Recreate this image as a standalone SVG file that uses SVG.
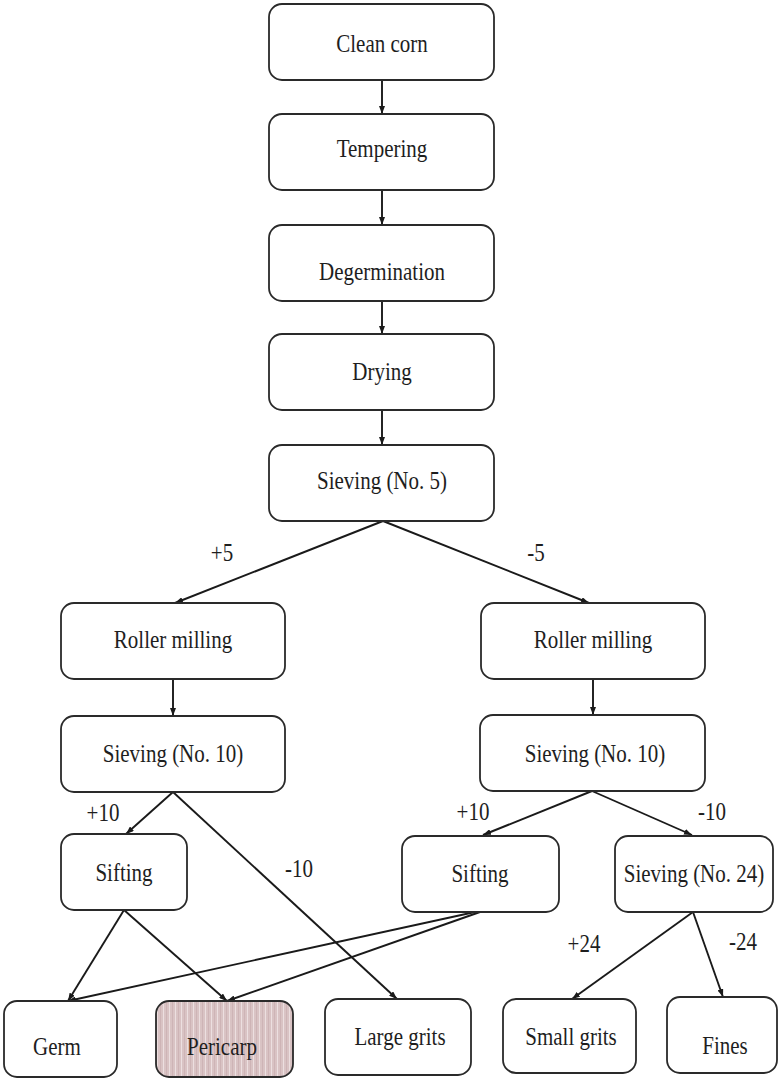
<svg xmlns="http://www.w3.org/2000/svg" width="779" height="1079" viewBox="0 0 779 1079">
<style>
.box{fill:#fff;stroke:#2a2a2a;stroke-width:1.8}
.t{font-family:"Liberation Serif","Times New Roman",serif;font-size:21px;fill:#1e1e1e;text-anchor:middle}
.e{stroke:#1a1a1a;stroke-width:1.9;fill:none;marker-end:url(#ah)}
</style>
<defs>
<marker id="ah" viewBox="0 0 8 6" refX="8" refY="3" markerWidth="8" markerHeight="6" markerUnits="userSpaceOnUse" orient="auto">
<path d="M0,0 L8,3 L0,6 z" fill="#1a1a1a"/>
</marker>
<pattern id="stripes" width="6" height="10" patternUnits="userSpaceOnUse">
<rect width="6" height="10" fill="#d9c3c4"/>
<rect x="1" width="1" height="10" fill="#ecdfe0"/>
<rect x="4" width="0.7" height="10" fill="#c9aeb0"/>
</pattern>
</defs>
<rect width="779" height="1079" fill="#fff"/>
<g id="connectors">
<line class="e" x1="382" y1="80" x2="382" y2="114"/>
<line class="e" x1="382" y1="190" x2="382" y2="225"/>
<line class="e" x1="382" y1="301" x2="382" y2="334"/>
<line class="e" x1="382" y1="410" x2="382" y2="445"/>
<line class="e" x1="383" y1="521" x2="175" y2="603"/>
<line class="e" x1="383" y1="521" x2="589" y2="603"/>
<line class="e" x1="173" y1="679" x2="173" y2="716"/>
<line class="e" x1="593" y1="679" x2="593" y2="715"/>
<line class="e" x1="173" y1="792" x2="126" y2="834"/>
<line class="e" x1="173" y1="792" x2="397" y2="999"/>
<line class="e" x1="592" y1="791" x2="483" y2="835"/>
<line class="e" x1="592" y1="791" x2="692" y2="835"/>
<line class="e" x1="124" y1="910" x2="68" y2="1001"/>
<line class="e" x1="124" y1="910" x2="227" y2="1001"/>
<line class="e" x1="475" y1="912" x2="68" y2="1001"/>
<line class="e" x1="480" y1="912" x2="227" y2="1001"/>
<line class="e" x1="693" y1="912" x2="572" y2="999"/>
<line class="e" x1="693" y1="912" x2="723" y2="997"/>
</g>
<g id="edge-labels">
<text class="t" transform="translate(222,561) scale(1,1.2)">+5</text>
<text class="t" transform="translate(536,561) scale(1,1.2)">-5</text>
<text class="t" transform="translate(103,821) scale(1,1.2)">+10</text>
<text class="t" transform="translate(299,877) scale(1,1.2)">-10</text>
<text class="t" transform="translate(473,820) scale(1,1.2)">+10</text>
<text class="t" transform="translate(712,820) scale(1,1.2)">-10</text>
<text class="t" transform="translate(584,952) scale(1,1.2)">+24</text>
<text class="t" transform="translate(743,950) scale(1,1.2)">-24</text>
</g>
<g id="n-clean-corn"><rect class="box" x="269" y="4" width="225" height="76" rx="13"/><text class="t" transform="translate(382,52) scale(1,1.2)">Clean corn</text></g>
<g id="n-tempering"><rect class="box" x="269" y="114" width="225" height="76" rx="13"/><text class="t" transform="translate(382,157) scale(1,1.2)">Tempering</text></g>
<g id="n-degermination"><rect class="box" x="269" y="225" width="225" height="76" rx="13"/><text class="t" transform="translate(382,280) scale(1,1.2)">Degermination</text></g>
<g id="n-drying"><rect class="box" x="269" y="334" width="225" height="76" rx="13"/><text class="t" transform="translate(382,380) scale(1,1.2)">Drying</text></g>
<g id="n-sieving5"><rect class="box" x="269" y="445" width="225" height="76" rx="13"/><text class="t" transform="translate(382,489) scale(1,1.2)">Sieving (No. 5)</text></g>
<g id="n-roller-left"><rect class="box" x="61" y="603" width="224" height="76" rx="13"/><text class="t" transform="translate(173,648) scale(1,1.2)">Roller milling</text></g>
<g id="n-roller-right"><rect class="box" x="481" y="603" width="224" height="76" rx="13"/><text class="t" transform="translate(593,648) scale(1,1.2)">Roller milling</text></g>
<g id="n-sieving10-left"><rect class="box" x="61" y="716" width="224" height="76" rx="13"/><text class="t" transform="translate(173,762) scale(1,1.2)">Sieving (No. 10)</text></g>
<g id="n-sieving10-right"><rect class="box" x="480" y="715" width="225" height="76" rx="13"/><text class="t" transform="translate(595,762) scale(1,1.2)">Sieving (No. 10)</text></g>
<g id="n-sifting-left"><rect class="box" x="61" y="834" width="126" height="76" rx="13"/><text class="t" transform="translate(124,881) scale(1,1.2)">Sifting</text></g>
<g id="n-sifting-right"><rect class="box" x="402" y="836" width="157" height="76" rx="13"/><text class="t" transform="translate(480,882) scale(1,1.2)">Sifting</text></g>
<g id="n-sieving24"><rect class="box" x="615" y="836" width="158" height="76" rx="13"/><text class="t" transform="translate(694,882) scale(1,1.2)">Sieving (No. 24)</text></g>
<g id="n-germ"><rect class="box" x="4" y="1001" width="113" height="76" rx="13"/><text class="t" transform="translate(57,1055) scale(1,1.2)">Germ</text></g>
<g id="n-pericarp"><rect class="box" x="156" y="1001" width="137" height="76" rx="13" style="fill:url(#stripes)"/><text class="t" transform="translate(222,1055) scale(1,1.2)">Pericarp</text></g>
<g id="n-large-grits"><rect class="box" x="325" y="999" width="146" height="76" rx="13"/><text class="t" transform="translate(400,1045) scale(1,1.2)">Large grits</text></g>
<g id="n-small-grits"><rect class="box" x="503" y="999" width="133" height="74" rx="13"/><text class="t" transform="translate(571,1045) scale(1,1.2)">Small grits</text></g>
<g id="n-fines"><rect class="box" x="667" y="997" width="110" height="76" rx="13"/><text class="t" transform="translate(725,1054) scale(1,1.2)">Fines</text></g>
</svg>
